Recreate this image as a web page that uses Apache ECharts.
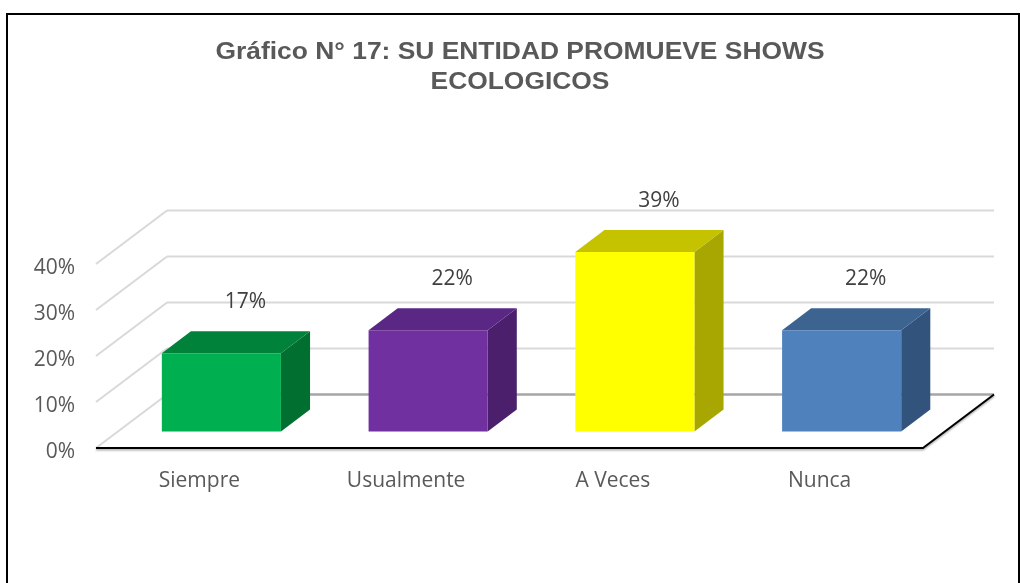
<!DOCTYPE html>
<html>
<head>
<meta charset="utf-8">
<title>Gráfico N° 17</title>
<script src="https://cdn.jsdelivr.net/npm/echarts@6/dist/echarts.min.js"></script>
<style>
html, body { margin: 0; padding: 0; background: #fff; }
#chart { width: 1020px; height: 583px; }
</style>
</head>
<body>
<div id="chart"></div>
<script>
const categories = ['Siempre', 'Usualmente', 'A Veces', 'Nunca']
const values = [0.17, 0.22, 0.39, 0.22]
const yTicks = [0, 0.1, 0.2, 0.3, 0.4]
const titleLines = ['Gráfico N° 17: SU ENTIDAD PROMUEVE SHOWS', 'ECOLOGICOS']

const frontColors = ['#00b050', '#7030a0', '#ffff00', '#4f81bd']
const topColors = ['#00823a', '#5b2784', '#c5c200', '#3d6491']
const sideColors = ['#006f30', '#4b1f6c', '#a8a600', '#31537c']

// fake 3d: depth of the floor in px, bars sit between two depth fractions
const DEPTH = [71, -53.5]
const BAR_NEAR = 0.31
const BAR_FAR = 0.72
const BAR_WIDTH = 0.576

function shift(p, f) {
  return [p[0] + DEPTH[0] * f, p[1] + DEPTH[1] * f]
}

function renderWalls(params, api) {
  const cs = params.coordSys
  const left = cs.x
  const right = cs.x + cs.width
  const children = []
  yTicks.forEach(t => {
    const y = api.coord([0, t])[1]
    const a = [left, y]
    const b = shift(a, 1)
    const c = shift([right, y], 1)
    children.push({
      type: 'line',
      shape: { x1: a[0], y1: a[1], x2: b[0], y2: b[1] },
      style: { stroke: '#d9d9d9', lineWidth: 2 }
    })
    children.push({
      type: 'line',
      shape: { x1: b[0], y1: b[1], x2: c[0], y2: c[1] },
      style: { stroke: t === 0 ? '#a6a6a6' : '#d9d9d9', lineWidth: t === 0 ? 2.5 : 2 }
    })
  })
  // floor edge, front and right side
  const y0 = api.coord([0, 0])[1]
  children.push({
    type: 'polyline',
    shape: { points: [[left, y0], [right, y0], shift([right, y0], 1)] },
    style: {
      stroke: '#000', lineWidth: 2, fill: null,
      shadowBlur: 2, shadowColor: 'rgba(0,0,0,0.35)', shadowOffsetY: 1.5
    }
  })
  return { type: 'group', children: children }
}

function renderBar(params, api) {
  const i = api.value(0)
  const v = api.value(1)
  const base = api.coord([i, 0])
  const yt = api.coord([i, v])[1]
  const w = api.size([1, 0])[0] * BAR_WIDTH
  const xl = base[0] - w / 2
  const xr = base[0] + w / 2
  const y0 = base[1]

  const nBL = shift([xl, y0], BAR_NEAR)
  const nBR = shift([xr, y0], BAR_NEAR)
  const nTR = shift([xr, yt], BAR_NEAR)
  const nTL = shift([xl, yt], BAR_NEAR)
  const fTL = shift([xl, yt], BAR_FAR)
  const fTR = shift([xr, yt], BAR_FAR)
  const fBR = shift([xr, y0], BAR_FAR)
  const lab = shift([base[0], yt], 0.65)

  return {
    type: 'group',
    children: [
      { type: 'polygon', shape: { points: [nBR, nTR, fTR, fBR] }, style: { fill: sideColors[i] } },
      { type: 'polygon', shape: { points: [nTL, nTR, fTR, fTL] }, style: { fill: topColors[i] } },
      { type: 'polygon', shape: { points: [nBL, nBR, nTR, nTL] }, style: { fill: frontColors[i] } },
      {
        type: 'text',
        style: {
          text: Math.round(v * 100) + '%',
          x: lab[0], y: lab[1] - 33,
          align: 'center', verticalAlign: 'middle',
          font: '21px "Open Sans"', fill: '#404040'
        }
      }
    ]
  }
}

const chart = echarts.init(document.getElementById('chart'))

chart.setOption({
  animation: false,
  backgroundColor: '#fff',
  grid: { left: 96, right: 97, top: 264, bottom: 135 },
  graphic: [
    {
      type: 'rect',
      shape: { x: 7, y: 14, width: 1012, height: 600 },
      style: { fill: null, stroke: '#000', lineWidth: 2 }
    },
    {
      type: 'text', x: 520, y: 52, scaleX: 1.1,
      style: {
        text: titleLines[0], align: 'center', verticalAlign: 'middle',
        font: 'bold 24px "Liberation Sans"', fill: '#595959'
      }
    },
    {
      type: 'text', x: 520, y: 82, scaleX: 1.1,
      style: {
        text: titleLines[1], align: 'center', verticalAlign: 'middle',
        font: 'bold 24px "Liberation Sans"', fill: '#595959'
      }
    }
  ],
  xAxis: {
    type: 'category',
    data: categories,
    axisLine: { show: false },
    axisTick: { show: false },
    splitLine: { show: false },
    axisLabel: { margin: 23, fontSize: 21, fontFamily: 'Open Sans', color: '#595959' }
  },
  yAxis: {
    type: 'value',
    min: 0,
    max: 0.4,
    interval: 0.1,
    axisLine: { show: false },
    axisTick: { show: false },
    splitLine: { show: false },
    axisLabel: {
      margin: 21, fontSize: 21, fontFamily: 'Open Sans', color: '#595959',
      verticalAlign: 'top', lineHeight: 8,
      formatter: v => Math.round(v * 100) + '%'
    }
  },
  series: [
    {
      type: 'custom',
      name: 'walls',
      clip: false,
      silent: true,
      renderItem: renderWalls,
      data: [[0, 0]],
      z: 1
    },
    {
      type: 'custom',
      name: 'bars',
      clip: false,
      renderItem: renderBar,
      encode: { x: 0, y: 1 },
      data: values.map((v, i) => [i, v]),
      z: 2
    }
  ]
})
</script>
</body>
</html>
